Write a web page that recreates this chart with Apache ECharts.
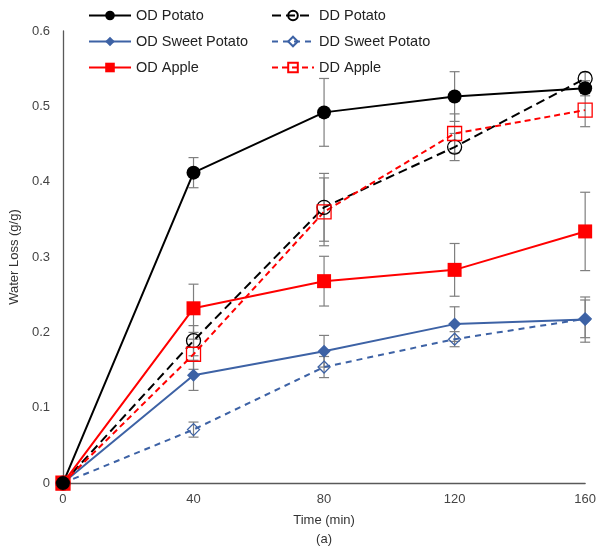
<!DOCTYPE html>
<html>
<head>
<meta charset="utf-8">
<script src="https://cdn.jsdelivr.net/npm/echarts@6/dist/echarts.min.js"></script>
<style>
  html, body { margin: 0; padding: 0; background: #fff; }
  #chart { width: 599px; height: 554px; }
</style>
</head>
<body>
<div id="chart"></div>
<script>
const times = [0, 40, 80, 120, 160]

const odPotato = [0, 0.412, 0.492, 0.513, 0.524]
const ddPotato = [0, 0.189, 0.366, 0.446, 0.537]
const odSweet = [0, 0.143, 0.175, 0.211, 0.217]
const ddSweet = [0, 0.071, 0.154, 0.191, 0.218]
const odApple = [0, 0.232, 0.268, 0.283, 0.334]
const ddApple = [0, 0.171, 0.360, 0.464, 0.495]

// standard deviations (error bars)
const odPotatoErr = [0, 0.02, 0.045, 0.033, 0.01]
const ddPotatoErr = [0, 0.02, 0.045, 0.018, 0.008]
const odSweetErr = [0, 0.02, 0.021, 0.023, 0.03]
const ddSweetErr = [0, 0.01, 0.014, 0.01, 0.025]
const odAppleErr = [0, 0.032, 0.033, 0.035, 0.052]
const ddAppleErr = [0, 0.02, 0.045, 0.026, 0.022]

const yTicks = [0, 0.1, 0.2, 0.3, 0.4, 0.5, 0.6]

const BLACK = '#000000'
const BLUE = '#3d62a5'
const RED = '#ff0000'

const chart = echarts.init(document.getElementById('chart'))

const pairs = (vals) => times.map((t, i) => [t, vals[i]])

const lineSeries = (name, vals, color, symbol, size, hollow, dash) => ({
  name,
  type: 'line',
  data: pairs(vals),
  symbol,
  symbolSize: size,
  showSymbol: true,
  z: 3,
  lineStyle: { color, width: 2, type: dash ? dash : 'solid' },
  itemStyle: hollow
    ? { color: 'rgba(255,255,255,0)', borderColor: color, borderWidth: 1.3 }
    : { color, borderColor: color, borderWidth: 0 },
  emphasis: { disabled: true },
  animation: false,
})

const errSeries = (vals, errs) => ({
  type: 'custom',
  z: 2,
  silent: true,
  animation: false,
  data: times.map((t, i) => [t, vals[i] - errs[i], vals[i] + errs[i]]),
  renderItem: (params, api) => {
    const lo = api.coord([api.value(0), api.value(1)])
    const hi = api.coord([api.value(0), api.value(2)])
    const w = 5
    const style = { stroke: '#7f7f7f', lineWidth: 1.2 }
    return {
      type: 'group',
      children: [
        { type: 'line', shape: { x1: lo[0], y1: lo[1], x2: hi[0], y2: hi[1] }, style },
        { type: 'line', shape: { x1: lo[0] - w, y1: lo[1], x2: lo[0] + w, y2: lo[1] }, style },
        { type: 'line', shape: { x1: hi[0] - w, y1: hi[1], x2: hi[0] + w, y2: hi[1] }, style },
      ],
    }
  },
})

const legendBase = {
  orient: 'vertical',
  top: 3,
  itemWidth: 42,
  itemHeight: 12,
  itemGap: 11,
  selectedMode: false,
  textStyle: { fontFamily: 'Liberation Sans, Arial', fontSize: 14.5, color: '#222' },
}

const option = {
  backgroundColor: '#ffffff',
  textStyle: { fontFamily: 'Liberation Sans, Arial' },
  legend: [
    { ...legendBase, left: 83, data: ['OD Potato', 'OD Sweet Potato', 'OD Apple'] },
    { ...legendBase, left: 266, data: ['DD Potato', 'DD Sweet Potato', 'DD Apple'] },
  ],
  grid: { left: 60, right: 11, top: 31, bottom: 67 },
  xAxis: {
    type: 'value',
    min: 0,
    max: 160,
    interval: 40,
    name: 'Time (min)\n(a)',
    nameLocation: 'middle',
    nameGap: 24,
    nameTextStyle: { fontSize: 13, color: '#333', lineHeight: 19 },
    axisLine: { lineStyle: { color: '#595959', width: 1.3 } },
    axisTick: { show: false },
    splitLine: { show: false },
    axisLabel: { fontSize: 13, color: '#444', margin: 10 },
  },
  yAxis: {
    type: 'value',
    min: 0,
    max: 0.6,
    interval: 0.1,
    name: 'Water Loss (g/g)',
    nameLocation: 'middle',
    nameGap: 40,
    nameTextStyle: { fontSize: 13, color: '#333' },
    axisLine: { show: true, lineStyle: { color: '#595959', width: 1.3 } },
    axisTick: { show: false },
    splitLine: { show: false },
    axisLabel: {
      fontSize: 13,
      color: '#444',
      margin: 13,
      formatter: (v) => {
        const t = yTicks.find((k) => Math.abs(k - v) < 1e-9)
        return t === 0 ? '0' : t.toFixed(1)
      },
    },
  },
  series: [
    errSeries(odPotato, odPotatoErr),
    errSeries(ddPotato, ddPotatoErr),
    errSeries(odSweet, odSweetErr),
    errSeries(ddSweet, ddSweetErr),
    errSeries(odApple, odAppleErr),
    errSeries(ddApple, ddAppleErr),
    lineSeries('DD Sweet Potato', ddSweet, BLUE, 'diamond', 12, true, [6, 5]),
    lineSeries('OD Sweet Potato', odSweet, BLUE, 'diamond', 13, false),
    lineSeries('DD Potato', ddPotato, BLACK, 'circle', 14, true, [9, 5]),
    lineSeries('DD Apple', ddApple, RED, 'rect', 14, true, [6, 4]),
    lineSeries('OD Apple', odApple, RED, 'rect', 14, false),
    lineSeries('OD Potato', odPotato, BLACK, 'circle', 14, false),
  ],
}

chart.setOption(option)
</script>
</body>
</html>
